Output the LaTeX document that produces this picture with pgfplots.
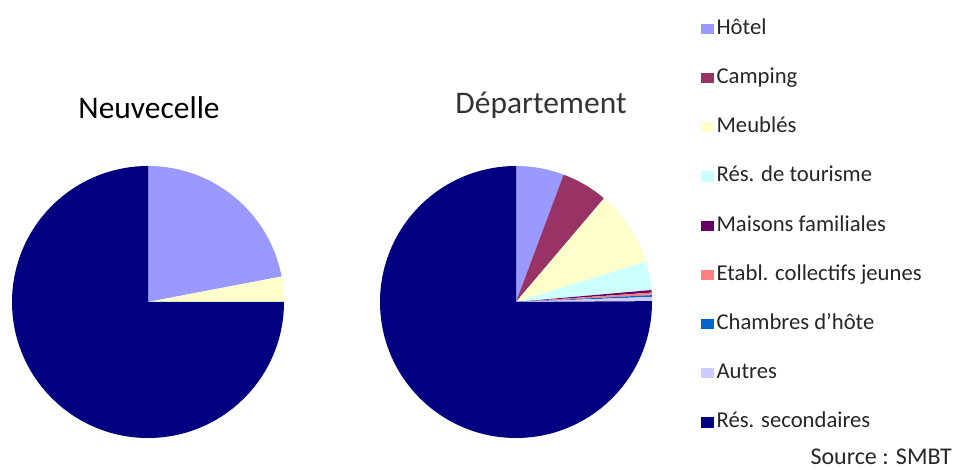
\documentclass[border=0pt]{standalone}
\usepackage{pgfplots}
\pgfplotsset{compat=1.18}
\usepackage{pgfplotstable}
\usepackage{fontspec}
\setmainfont{Carlito}

\definecolor{cHotel}{HTML}{9999FF}
\definecolor{cCamping}{HTML}{993366}
\definecolor{cMeubles}{HTML}{FFFFCC}
\definecolor{cRestour}{HTML}{CCFFFF}
\definecolor{cMaisons}{HTML}{660066}
\definecolor{cEtab}{HTML}{FF8080}
\definecolor{cChambres}{HTML}{0066CC}
\definecolor{cAutres}{HTML}{CCCCFF}
\definecolor{cRessec}{HTML}{000080}

% shares in percent, clockwise from 12 o'clock
\pgfplotstableread{
cat      value color
hotel    22.0  cHotel
meubles  3.0   cMeubles
ressec   75.0  cRessec
}\neuvecelle

\pgfplotstableread{
cat      value color
hotel    5.7   cHotel
camping  5.5   cCamping
meubles  9.0   cMeubles
restour  3.4   cRestour
maisons  0.3   cMaisons
etab     0.3   cEtab
chambres 0.2   cChambres
autres   0.5   cAutres
ressec   75.1  cRessec
}\departement

% draw one pie from a table, centre in axis units, radius in pt
\newcommand\drawpie[4]{%
  \pgfplotstablegetrowsof{#1}%
  \pgfmathtruncatemacro\lastrow{\pgfplotsretval-1}%
  \def\angstart{90}%
  \pgfplotsforeachungrouped \i in {0,...,\lastrow}{%
    \pgfplotstablegetelem{\i}{value}\of{#1}\let\v\pgfplotsretval
    \pgfplotstablegetelem{\i}{color}\of{#1}\let\c\pgfplotsretval
    \pgfmathsetmacro\angend{\angstart-3.6*\v}%
    \edef\temp{\noexpand\fill[\c] (axis cs:#2,#3) -- ++(\angstart:#4)
      arc[start angle=\angstart, end angle=\angend, radius=#4] -- cycle;}%
    \temp
    \let\angstart\angend
  }%
}

\pgfplotsset{
  sqlegend/.style={legend image code/.code={\fill[##1, draw=none] (0pt,-3.8pt) rectangle (9.5pt,3.8pt);}},
}

\begin{document}
\begin{tikzpicture}
\begin{axis}[
    width=717pt, height=352.5pt,
    scale only axis,
    xmin=0, xmax=956, ymin=0, ymax=470,
    hide axis,
    clip=false,
    legend cell align=left,
    legend style={
        draw=none, fill=none, inner sep=0pt,
        at={(axis cs:701,452)}, anchor=north west,
        font=\fontsize{17}{17}\selectfont,
        text=black!85,
        row sep=20.9pt,
        nodes={inner xsep=2pt, inner ysep=1pt, text height=11pt, text depth=3pt},
    },
    ]
    % keep the whole canvas in the bounding box
    \path (axis cs:0,0) rectangle (axis cs:956,470);

    \drawpie{\neuvecelle}{148}{168}{102pt}
    \drawpie{\departement}{516}{168}{102pt}

    \addlegendimage{sqlegend, fill=cHotel}    \addlegendentry{Hôtel}
    \addlegendimage{sqlegend, fill=cCamping}  \addlegendentry{Camping}
    \addlegendimage{sqlegend, fill=cMeubles}  \addlegendentry{Meublés}
    \addlegendimage{sqlegend, fill=cRestour}  \addlegendentry{Rés. de tourisme}
    \addlegendimage{sqlegend, fill=cMaisons}  \addlegendentry{Maisons familiales}
    \addlegendimage{sqlegend, fill=cEtab}     \addlegendentry{Etabl. collectifs jeunes}
    \addlegendimage{sqlegend, fill=cChambres} \addlegendentry{Chambres d'hôte}
    \addlegendimage{sqlegend, fill=cAutres}   \addlegendentry{Autres}
    \addlegendimage{sqlegend, fill=cRessec}   \addlegendentry{Rés. secondaires}

    \node[font=\fontsize{23.6}{26}\selectfont] at (axis cs:149,362) {Neuvecelle};
    \node[font=\fontsize{23.6}{26}\selectfont, text=black!80] at (axis cs:541,365) {Département};
    \node[font=\fontsize{18}{20}\selectfont, anchor=east, inner sep=0pt, text=black!85] at (axis cs:952,13) {Source : SMBT};
\end{axis}
\end{tikzpicture}
\end{document}
